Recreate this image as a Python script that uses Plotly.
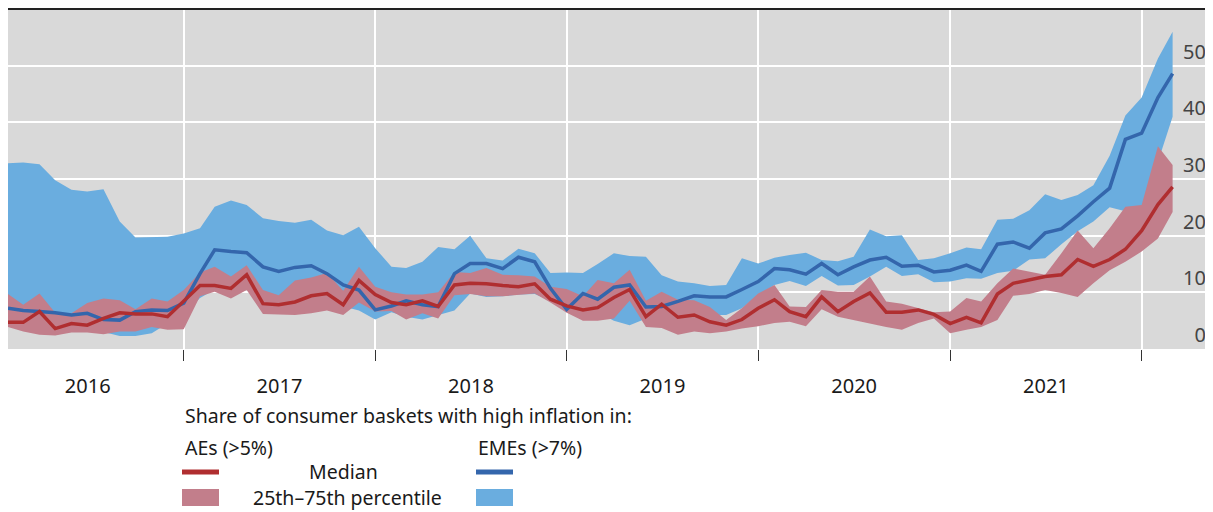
import pandas as pd
import plotly.graph_objects as go

# Monthly observations, Jan 2016 - Feb 2022 (plotted on month boundaries)
months = pd.date_range("2016-02-01", periods=74, freq="MS")

# AEs (>5%) - share of consumer baskets, per cent
ae_median = [4.7, 4.7, 6.6, 3.6, 4.5, 4.2, 5.4, 6.4, 6.2, 6.2, 5.7, 8.4,
             11.2, 11.2, 10.7, 13.1, 8.0, 7.8, 8.3, 9.4, 9.8, 7.8, 12.1, 9.6,
             8.2, 7.8, 8.5, 7.5, 11.3, 11.6, 11.5, 11.2, 11.0, 11.5, 8.8, 7.6,
             6.9, 7.3, 9.1, 10.5, 5.7, 7.9, 5.6, 6.0, 4.8, 4.2, 5.2, 7.2,
             8.7, 6.6, 5.7, 9.2, 6.6, 8.4, 9.9, 6.5, 6.5, 6.9, 6.1, 4.5,
             5.6, 4.6, 9.7, 11.6, 12.2, 12.8, 13.1, 15.8, 14.6, 15.8, 17.6, 20.9, 25.5, 28.6]
ae_p25 = [3.9, 3.1, 2.5, 2.4, 2.9, 2.9, 2.6, 3.1, 3.1, 3.9, 3.4, 3.5,
          9.3, 10.1, 8.9, 10.4, 6.2, 6.1, 6.0, 6.3, 6.8, 6.0, 8.2, 6.6,
          6.7, 5.2, 6.3, 5.4, 9.5, 9.7, 9.3, 9.3, 9.6, 9.8, 8.2, 6.4,
          5.0, 5.0, 5.4, 8.5, 3.9, 3.7, 2.5, 3.1, 2.8, 3.1, 3.6, 4.0,
          4.6, 4.8, 4.0, 7.0, 5.7, 5.1, 4.5, 3.9, 3.4, 4.6, 5.4, 2.8,
          3.4, 3.9, 5.1, 9.4, 9.7, 10.4, 9.9, 9.2, 11.6, 13.9, 15.4, 17.2, 19.5, 24.2]
ae_p75 = [9.7, 7.8, 9.8, 6.4, 6.3, 8.1, 8.9, 8.6, 7.0, 8.9, 8.4, 10.4,
          13.5, 14.5, 12.8, 14.8, 10.4, 9.5, 12.1, 12.6, 13.4, 10.3, 14.5, 11.0,
          10.0, 9.6, 9.6, 10.0, 13.6, 13.4, 14.3, 13.1, 13.0, 12.8, 11.0, 10.6,
          9.3, 12.2, 11.6, 14.0, 8.5, 10.1, 8.7, 8.6, 7.4, 5.1, 7.2, 9.8,
          11.3, 7.5, 7.4, 10.4, 10.1, 10.1, 12.8, 8.4, 8.0, 7.2, 6.5, 6.6,
          9.0, 8.4, 11.6, 14.2, 13.6, 13.1, 16.9, 20.9, 17.8, 21.3, 25.1, 25.4, 35.8, 32.5]

# EMEs (>7%)
eme_median = [7.2, 6.8, 6.6, 6.4, 6.0, 6.3, 5.2, 5.1, 6.6, 6.9, 6.8, 8.1,
              13.3, 17.5, 17.2, 17.0, 14.5, 13.7, 14.4, 14.7, 13.3, 11.3, 10.4, 6.9,
              7.6, 8.5, 7.8, 7.5, 13.3, 15.1, 15.1, 14.2, 16.2, 15.4, 10.7, 7.0,
              9.8, 8.8, 10.9, 11.3, 7.4, 7.5, 8.4, 9.4, 9.2, 9.2, 10.5, 11.9,
              14.2, 14.0, 13.2, 15.1, 13.1, 14.5, 15.7, 16.2, 14.6, 14.8, 13.6, 13.9,
              14.8, 13.7, 18.5, 18.9, 17.8, 20.5, 21.2, 23.5, 26.0, 28.4, 37.0, 38.1, 44.4, 48.6]
eme_p25 = [5.0, 4.5, 4.5, 4.0, 3.5, 3.5, 3.0, 2.3, 2.3, 2.8, 4.5, 6.0,
           9.0, 10.5, 10.5, 10.5, 9.5, 9.0, 9.0, 9.0, 8.5, 7.5, 6.8, 5.2,
           6.5, 5.7, 5.2, 6.0, 6.8, 9.8, 9.2, 9.3, 9.6, 9.7, 8.5, 6.6,
           7.0, 6.5, 5.0, 4.2, 5.4, 6.5, 6.8, 6.5, 6.0, 6.0, 7.2, 9.5,
           11.3, 12.0, 11.1, 12.9, 11.2, 11.3, 12.8, 14.5, 12.9, 13.2, 11.8, 11.9,
           12.5, 12.4, 13.4, 13.8, 15.8, 16.0, 18.5, 20.8, 22.5, 25.0, 24.3, 24.8, 33.0, 41.0]
eme_p75 = [32.8, 32.9, 32.6, 29.8, 28.1, 27.8, 28.2, 22.5, 19.7, 19.7, 19.8, 20.4,
           21.3, 25.1, 26.2, 25.4, 23.1, 22.6, 22.3, 22.8, 20.9, 20.1, 21.6, 17.8,
           14.5, 14.3, 15.4, 18.0, 17.6, 20.0, 16.0, 15.6, 17.7, 16.9, 13.4, 13.5,
           13.4, 15.0, 16.9, 16.4, 16.3, 13.0, 11.9, 11.6, 11.1, 11.3, 16.0, 15.1,
           16.1, 16.6, 17.0, 15.7, 15.5, 16.3, 21.1, 19.9, 20.1, 15.7, 16.0, 16.9,
           17.9, 17.6, 22.8, 23.0, 24.5, 27.3, 26.3, 27.2, 28.9, 34.1, 41.2, 44.4, 51.3, 56.0]

RED_LINE = "#B02E30"
RED_BAND = "#C27E8B"
BLUE_LINE = "#3466AC"
BLUE_BAND = "#6AADDF"
BG = "#D9D9D9"
FONT = "Noto Sans"

# the page adds an 8px body margin, so the figure is sized to fill what is left
OFF = 8
W, H = 1213 - OFF, 512 - OFF
L, R, T, B = 0, 0, 2, 163


def px(x):
    # page pixel -> paper x
    return (x - OFF - L) / (W - L - R)


def py(y):
    # page pixel -> paper y
    return (H - B - (y - OFF)) / (H - T - B)


fig = go.Figure()

# ranges first (band under band), then medians on top
fig.add_trace(go.Scatter(x=months, y=eme_p25, mode="lines", line=dict(width=0),
                         showlegend=False, hoverinfo="skip"))
fig.add_trace(go.Scatter(x=months, y=eme_p75, mode="lines", line=dict(width=0),
                         fill="tonexty", fillcolor=BLUE_BAND, showlegend=False))
fig.add_trace(go.Scatter(x=months, y=ae_p25, mode="lines", line=dict(width=0),
                         showlegend=False, hoverinfo="skip"))
fig.add_trace(go.Scatter(x=months, y=ae_p75, mode="lines", line=dict(width=0),
                         fill="tonexty", fillcolor=RED_BAND, showlegend=False))
fig.add_trace(go.Scatter(x=months, y=eme_median, mode="lines",
                         line=dict(color=BLUE_LINE, width=3.5), showlegend=False))
fig.add_trace(go.Scatter(x=months, y=ae_median, mode="lines",
                         line=dict(color=RED_LINE, width=3.5), showlegend=False))

fig.update_layout(
    width=W, height=H,
    margin=dict(l=L, r=R, t=T, b=B),
    plot_bgcolor=BG, paper_bgcolor="white",
    font=dict(family=FONT, color="#1a1a1a"),
    xaxis=dict(
        type="date", range=["2016-02-01", "2022-05-17"],
        tick0="2016-01-01", dtick="M12", tickformat="%Y", ticklabelmode="period",
        ticks="outside", ticklen=11, tickwidth=1, tickcolor="#333",
        showgrid=True, gridcolor="white", gridwidth=1.5,
        zeroline=False, showline=False, tickfont=dict(size=20),
        ticklabelstandoff=8,
    ),
    yaxis=dict(
        range=[0, 59.84], side="right", ticklabelposition="inside top",
        tick0=0, dtick=10, ticklabelstandoff=4,
        showgrid=True, gridcolor="white", gridwidth=1.5,
        zeroline=False, showline=False, tickfont=dict(size=20),
    ),
)

# thin rule above the panel
fig.add_shape(type="line", xref="paper", yref="paper", x0=0, x1=1,
              y0=py(9), y1=py(9), line=dict(color="#222", width=2))

# hand-built legend below the chart
legend_texts = [
    ("Share of consumer baskets with high inflation in:", 183, 415),
    ("AEs (>5%)", 183, 447),
    ("EMEs (>7%)", 476, 447),
    ("25th\u201375th percentile", 251, 497),
]
for txt, x, y in legend_texts:
    fig.add_annotation(text=txt, xref="paper", yref="paper", x=px(x), y=py(y),
                       xanchor="left", yanchor="middle", showarrow=False,
                       font=dict(size=19.5))
fig.add_annotation(text="Median", xref="paper", yref="paper", x=px(343), y=py(472),
                   xanchor="center", yanchor="middle", showarrow=False,
                   font=dict(size=19.5))

swatches = [
    (182, 219, 469.5, 474.5, RED_LINE),
    (476, 513, 469.5, 474.5, BLUE_LINE),
    (182, 219, 489, 506, RED_BAND),
    (476, 513, 489, 506, BLUE_BAND),
]
for x0, x1, y0, y1, col in swatches:
    fig.add_shape(type="rect", xref="paper", yref="paper",
                  x0=px(x0), x1=px(x1), y0=py(y1), y1=py(y0),
                  fillcolor=col, line=dict(width=0))

fig.write_html("out.html")
